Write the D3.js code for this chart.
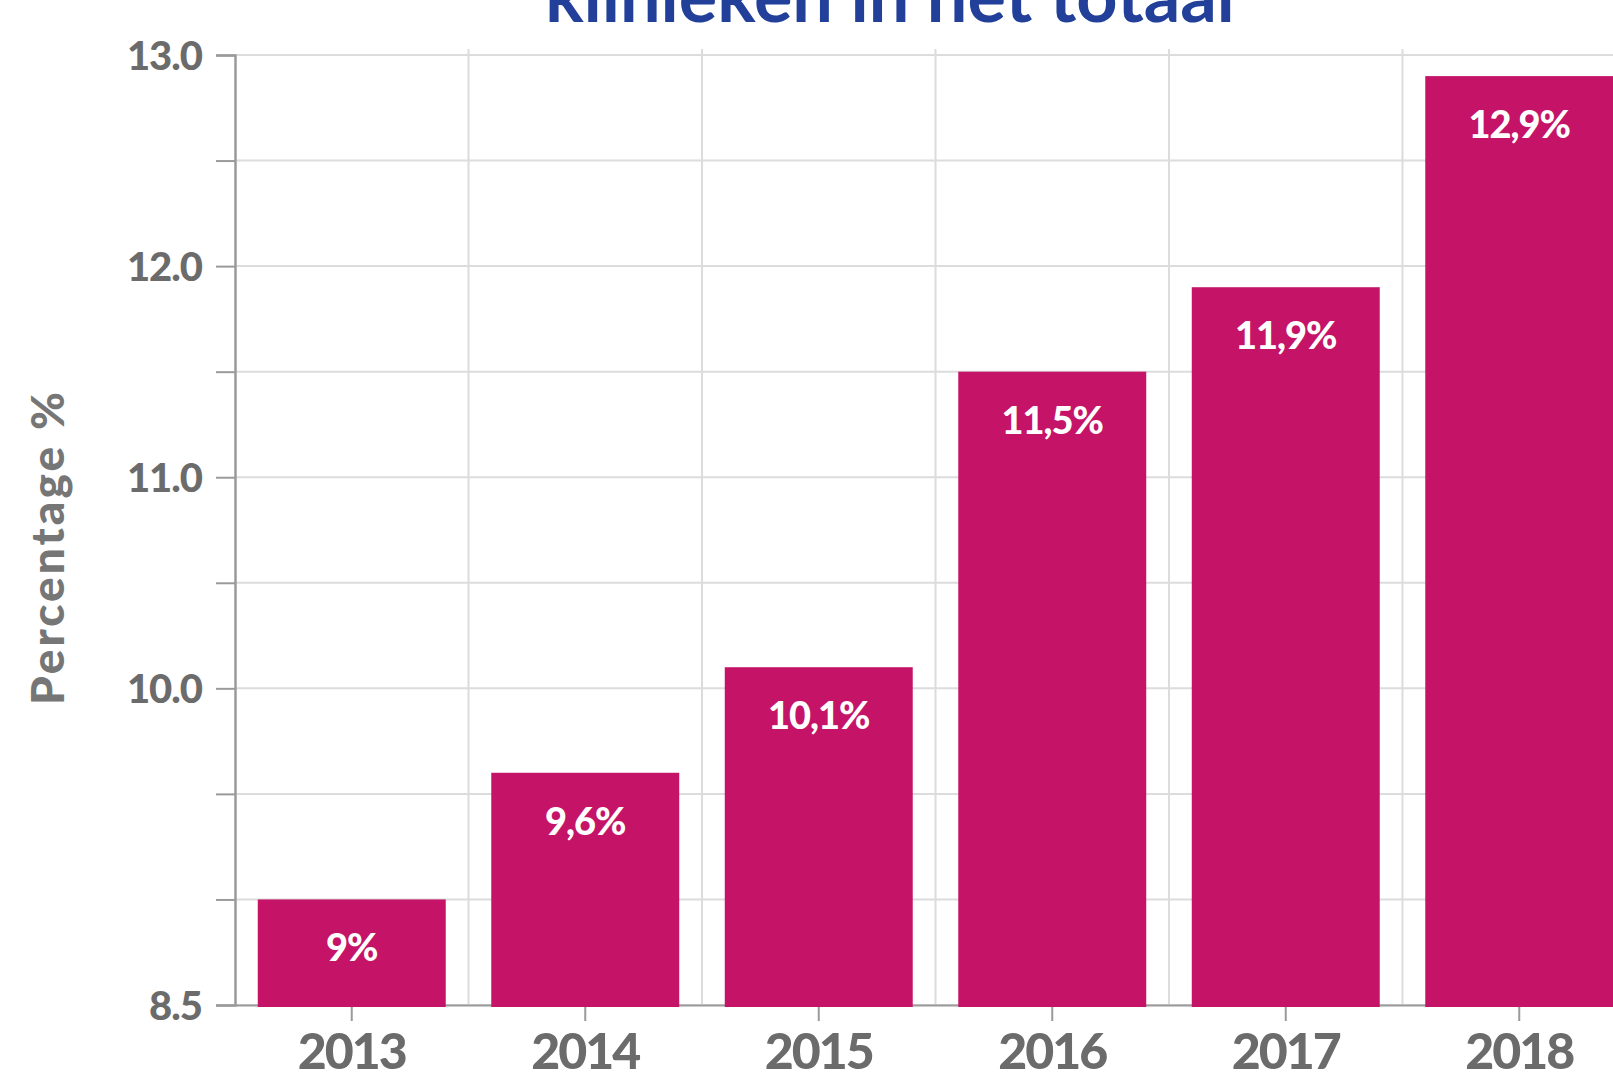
<!DOCTYPE html>
<html>
<head>
<meta charset="utf-8">
<script src="https://cdn.jsdelivr.net/npm/d3@7"></script>
<style>
  body { margin: 0; background: #fff; }
  svg { display: block; font-family: Lato, "Open Sans", sans-serif; }
</style>
</head>
<body>
<svg class="chart" width="1613" height="1073"></svg>
<script>
// data
var years = ["2013", "2014", "2015", "2016", "2017", "2018"];
var values = [9.0, 9.6, 10.1, 11.5, 11.9, 12.9];
var valueLabels = ["9%", "9,6%", "10,1%", "11,5%", "11,9%", "12,9%"];
var yTicks = [8.5, 9.0, 9.5, 10.0, 10.5, 11.0, 11.5, 12.0, 12.5, 13.0];
var yTickLabels = ["8.5", "", "", "10.0", "", "11.0", "", "12.0", "", "13.0"];

var svg = d3.select(".chart"),
    plotLeft = 235, plotTop = 55, plotBottom = 1005,
    step = 233.5,
    plotRight = plotLeft + step * years.length;

var x = d3.scaleBand().domain(years).range([plotLeft, plotRight]).paddingInner(0.195).paddingOuter(0.0975),
    y = d3.scaleLinear().domain([8.5, 13]).range([plotBottom, plotTop]);

var grey = "#6b6b6b", barColor = "#c51367";

// title (cut off at the top of the picture)
svg.append("text")
    .attr("x", 890)
    .attr("y", 22)
    .attr("text-anchor", "middle")
    .attr("fill", "#22409a")
    .style("font-size", "72px")
    .style("font-weight", 700)
    .text("klinieken in het totaal");

// grid
var grid = svg.append("g").attr("class", "grid");
grid.selectAll(".hgrid")
    .data(yTicks)
    .enter().append("line")
    .attr("x1", plotLeft).attr("x2", 1613)
    .attr("y1", function(d) { return y(d); })
    .attr("y2", function(d) { return y(d); })
    .attr("stroke", "#dcdcdc").attr("stroke-width", 2);

grid.selectAll(".vgrid")
    .data(years.slice(1))
    .enter().append("line")
    .attr("x1", function(d) { return x(d) - x.step() * x.paddingInner() / 2; })
    .attr("x2", function(d) { return x(d) - x.step() * x.paddingInner() / 2; })
    .attr("y1", plotTop - 6).attr("y2", plotBottom)
    .attr("stroke", "#dcdcdc").attr("stroke-width", 2);

// y axis
var yAxis = svg.append("g")
    .attr("class", "axis axis--y")
    .attr("transform", "translate(" + plotLeft + ",0)")
    .call(d3.axisLeft(y).tickValues(yTicks).tickSize(19).tickPadding(14)
        .tickFormat(function(d, i) { return yTickLabels[i]; }));
yAxis.select(".domain").attr("stroke", "#9a9a9a").attr("stroke-width", 2.5);
yAxis.selectAll(".tick line").attr("stroke", "#9a9a9a").attr("stroke-width", 2);
yAxis.selectAll(".tick text")
    .attr("fill", grey)
    .style("font-size", "40px")
    .style("font-weight", 900)
    .style("letter-spacing", "-1px")
    .style("font-family", "Lato, sans-serif")
    .attr("dy", "0.36em");

// x axis
var xAxis = svg.append("g")
    .attr("class", "axis axis--x")
    .attr("transform", "translate(0," + plotBottom + ")")
    .call(d3.axisBottom(x).tickSize(16).tickPadding(12).tickSizeOuter(0));
xAxis.select(".domain").attr("stroke", "#9a9a9a").attr("stroke-width", 2);
xAxis.selectAll(".tick line").attr("stroke", "#9a9a9a").attr("stroke-width", 2);
xAxis.selectAll(".tick text")
    .attr("fill", grey)
    .style("font-size", "50px")
    .style("font-weight", 900)
    .style("letter-spacing", "-2px")
    .style("font-family", "Lato, sans-serif");

// axis title
svg.append("text")
    .attr("transform", "translate(64,547) rotate(-90)")
    .attr("text-anchor", "middle")
    .attr("fill", "#767676")
    .style("font-size", "46px")
    .style("font-weight", 900)
    .style("letter-spacing", "3px")
    .text("Percentage %");

// bars
svg.selectAll(".bar")
    .data(values)
    .enter().append("rect")
    .attr("class", "bar")
    .attr("x", function(d, i) { return x(years[i]); })
    .attr("y", function(d) { return y(d); })
    .attr("width", x.bandwidth())
    .attr("height", function(d) { return plotBottom + 2 - y(d); })
    .attr("fill", barColor);

svg.selectAll(".label")
    .data(values)
    .enter().append("text")
    .attr("class", "label")
    .attr("x", function(d, i) { return x(years[i]) + x.bandwidth() / 2; })
    .attr("y", function(d) { return y(d) + 62; })
    .attr("text-anchor", "middle")
    .attr("fill", "#fff")
    .style("font-size", "38px")
    .style("font-weight", 900)
    .style("letter-spacing", "-1px")
    .text(function(d, i) { return valueLabels[i]; });
</script>
</body>
</html>
